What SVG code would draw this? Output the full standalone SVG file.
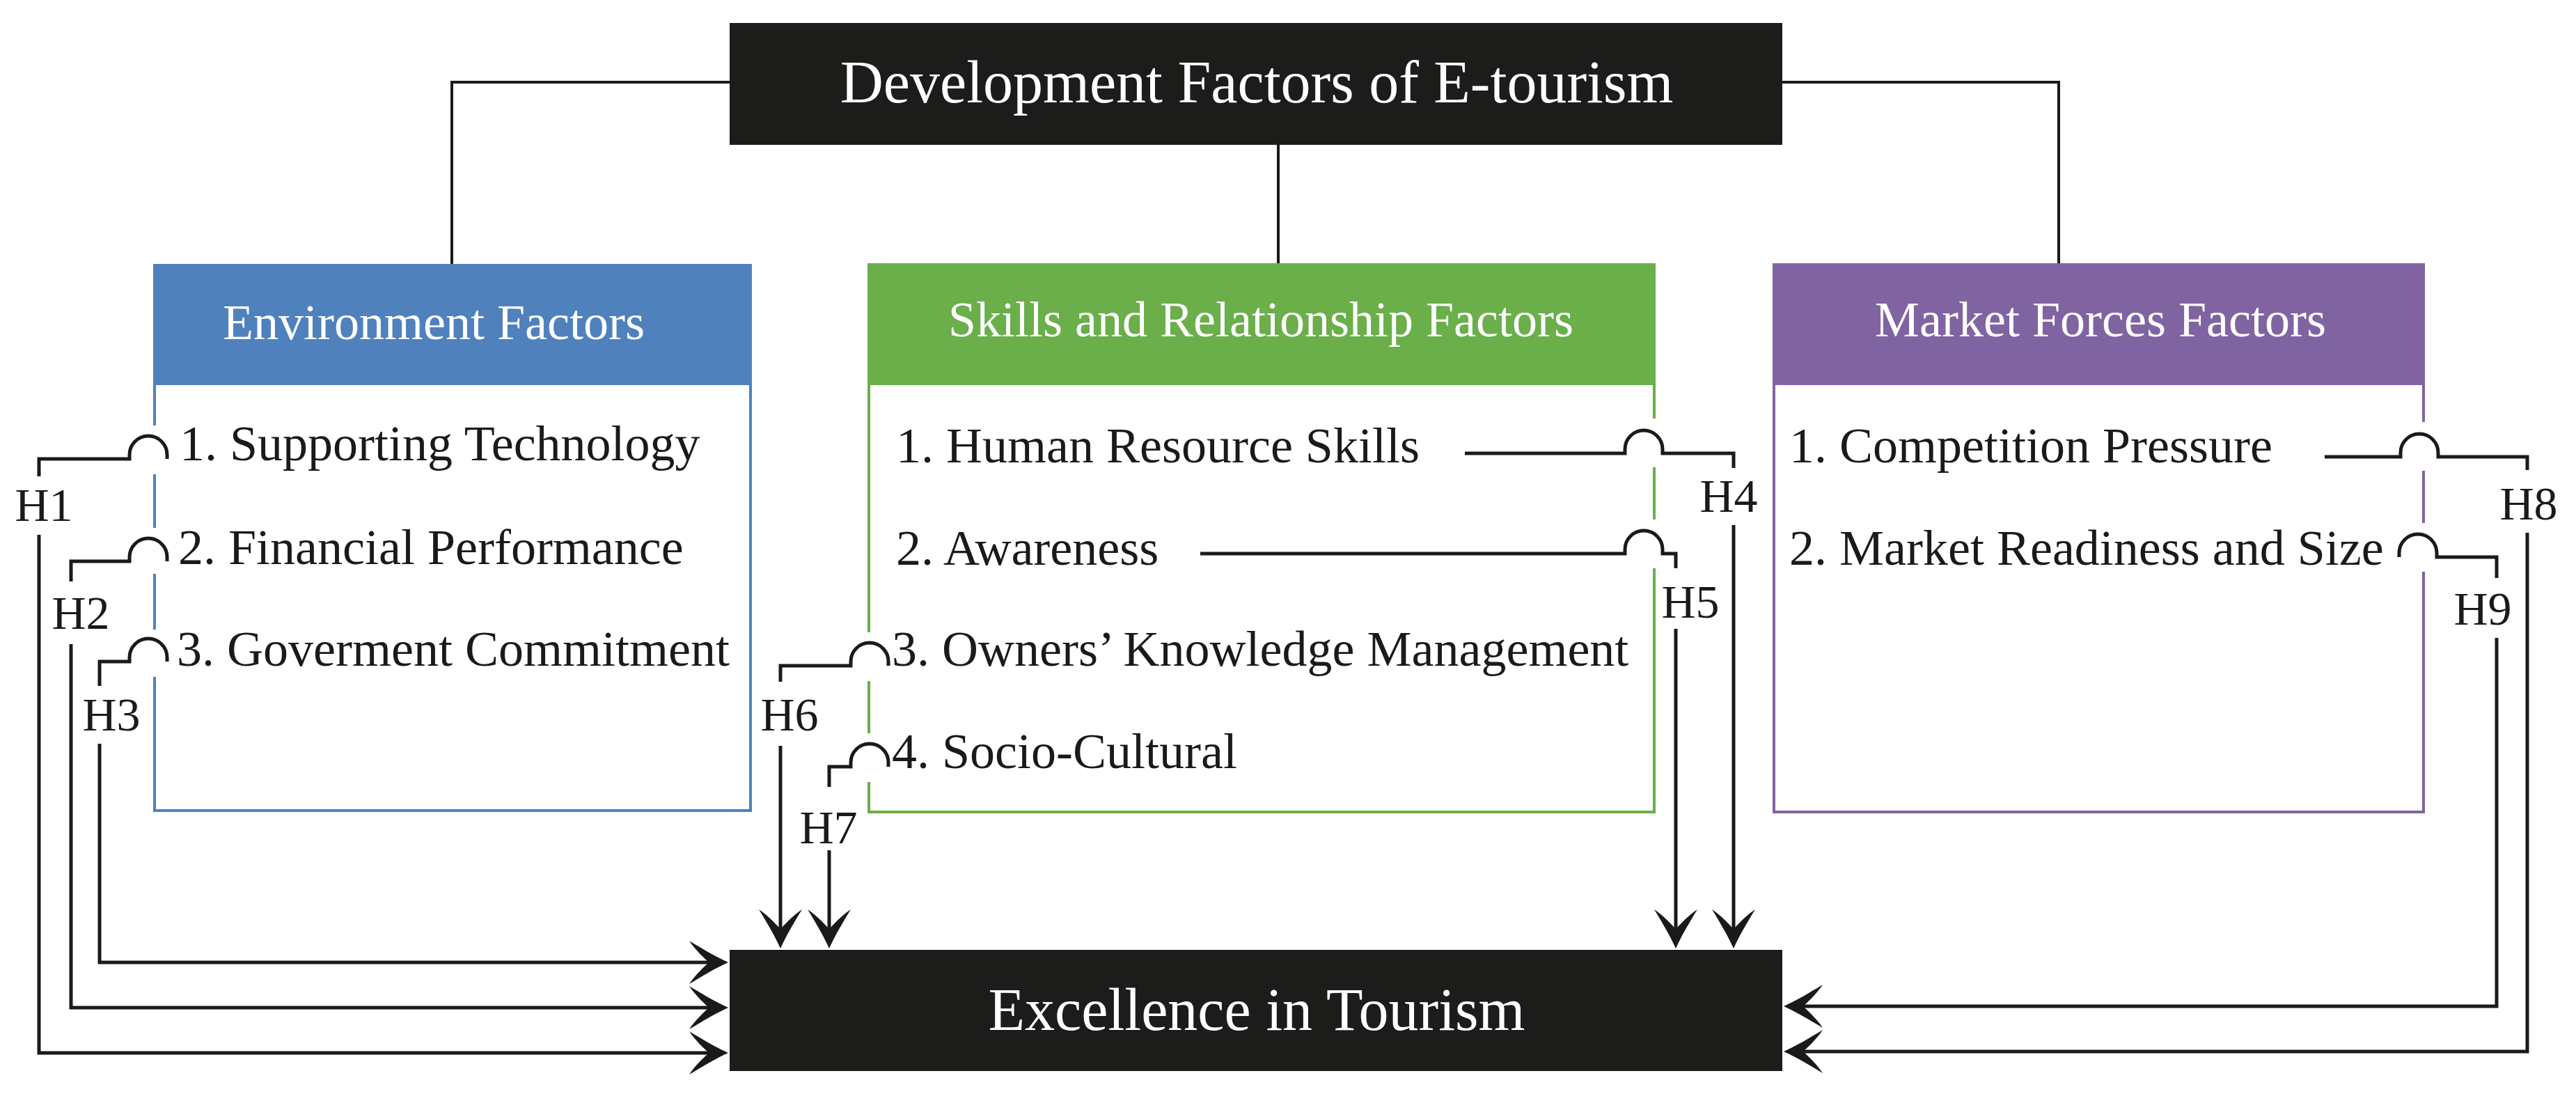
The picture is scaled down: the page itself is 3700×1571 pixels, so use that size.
<svg xmlns="http://www.w3.org/2000/svg" xmlns:xlink="http://www.w3.org/1999/xlink" width="3700" height="1571" viewBox="0 0 3700 1571">
<style>
text { font-family: "Liberation Serif", "Times New Roman", serif; }
.dark { fill: #1c1c1a; }
.big { font-size: 86px; fill: #ffffff; text-anchor: middle; }
.head { font-size: 72px; fill: #ffffff; text-anchor: middle; }
.item { font-size: 72px; fill: #1a1a1a; }
.lab { font-size: 68px; fill: #1a1a1a; text-anchor: middle; }
.conn { fill: none; stroke: #1a1a1a; stroke-width: 5; stroke-linejoin: miter; }
.thin { fill: none; stroke: #1a1a1a; stroke-width: 4; }
.gap { fill: #ffffff; }
</style>
<defs>
<path id="ah" d="M0,0 C-18,-8 -38,-20 -56,-31 C-46,-16 -34,-6 -28,0 C-34,6 -46,16 -56,31 C-38,20 -18,8 0,0 Z" fill="#1a1a1a"/>
</defs>
<rect width="3700" height="1571" fill="#ffffff"/>

<g id="connectors-top">
<path class="thin" d="M1048,118 H649 V381"/>
<path class="thin" d="M1836,208 V380"/>
<path class="thin" d="M2560,118 H2957 V380"/>
</g>

<g id="node-development">
<rect class="dark" x="1048" y="33" width="1512" height="175"/>
<text class="big" x="1805" y="147">Development Factors of E-tourism</text>
</g>

<g id="node-environment">
<rect x="222" y="381" width="856" height="783" fill="#ffffff" stroke="#4F81BD" stroke-width="4"/>
<rect x="220" y="381" width="860" height="172" fill="#4F81BD"/>
<text class="head" x="623" y="487">Environment Factors</text>
<text class="item" x="258" y="661">1. Supporting Technology</text>
<text class="item" x="256" y="810">2. Financial Performance</text>
<text class="item" x="254" y="956">3. Goverment Commitment</text>
</g>

<g id="node-skills">
<rect x="1248" y="380" width="1128" height="786" fill="#ffffff" stroke="#6AAF4A" stroke-width="4"/>
<rect x="1246" y="380" width="1132" height="173" fill="#6AAF4A"/>
<text class="head" x="1811" y="483">Skills and Relationship Factors</text>
<text class="item" x="1287" y="664">1. Human Resource Skills</text>
<text class="item" x="1287" y="811">2. Awareness</text>
<text class="item" x="1281" y="956">3. Owners’ Knowledge Management</text>
<text class="item" x="1281" y="1103">4. Socio-Cultural</text>
</g>

<g id="node-market">
<rect x="2548" y="380" width="933" height="786" fill="#ffffff" stroke="#8064A2" stroke-width="4"/>
<rect x="2546" y="380" width="937" height="173" fill="#8064A2"/>
<text class="head" x="3017" y="483">Market Forces Factors</text>
<text class="item" x="2570" y="664">1. Competition Pressure</text>
<text class="item" x="2570" y="811">2. Market Readiness and Size</text>
</g>

<g id="node-excellence">
<rect class="dark" x="1048" y="1364" width="1512" height="174"/>
<text class="big" x="1805" y="1479">Excellence in Tourism</text>
</g>

<g id="bridge-gaps">
<rect class="gap" x="214" y="611" width="16" height="70"/>
<rect class="gap" x="214" y="758" width="16" height="66"/>
<rect class="gap" x="214" y="904" width="16" height="68"/>
<rect class="gap" x="1240" y="908" width="16" height="70"/>
<rect class="gap" x="1240" y="1053" width="16" height="70"/>
<rect class="gap" x="2368" y="601" width="16" height="70"/>
<rect class="gap" x="2368" y="746" width="16" height="70"/>
<rect class="gap" x="3473" y="606" width="16" height="70"/>
<rect class="gap" x="3473" y="751" width="16" height="70"/>
</g>

<g id="connectors">
<path class="conn" d="M240,659 V653 A27,27 0 0 0 186,653 V659 H56 V684"/>
<path class="conn" d="M56,768 V1512 H1020"/>
<path class="conn" d="M240,806 V800 A27,27 0 0 0 186,800 V806 H102 V835"/>
<path class="conn" d="M102,925 V1447 H1020"/>
<path class="conn" d="M240,950 V944 A27,27 0 0 0 186,944 V950 H143 V985"/>
<path class="conn" d="M143,1068 V1382 H1020"/>

<path class="conn" d="M2104,651 H2334 V645 A27,27 0 0 1 2388,645 V651 H2490 V672"/>
<path class="conn" d="M2490,754 V1334"/>
<path class="conn" d="M1724,795 H2334 V789 A27,27 0 0 1 2388,789 V795 H2407 V816"/>
<path class="conn" d="M2407,903 V1334"/>
<path class="conn" d="M1276,956 V950 A27,27 0 0 0 1222,950 V956 H1121 V979"/>
<path class="conn" d="M1121,1071 V1334"/>
<path class="conn" d="M1276,1101 V1095 A27,27 0 0 0 1222,1095 V1101 H1191 V1130"/>
<path class="conn" d="M1191,1221 V1334"/>

<path class="conn" d="M3339,656 H3448 V650 A27,27 0 0 1 3502,650 V656 H3630 V675"/>
<path class="conn" d="M3630,765 V1510 H2590"/>
<path class="conn" d="M3446,800 V794 A27,27 0 0 1 3500,794 V800 H3586 V830"/>
<path class="conn" d="M3586,916 V1445 H2590"/>

<use xlink:href="#ah" transform="translate(1046,1382)"/>
<use xlink:href="#ah" transform="translate(1046,1447)"/>
<use xlink:href="#ah" transform="translate(1046,1512)"/>
<use xlink:href="#ah" transform="translate(1121,1362) rotate(90)"/>
<use xlink:href="#ah" transform="translate(1191,1362) rotate(90)"/>
<use xlink:href="#ah" transform="translate(2407,1362) rotate(90)"/>
<use xlink:href="#ah" transform="translate(2490,1362) rotate(90)"/>
<use xlink:href="#ah" transform="translate(2562,1445) rotate(180)"/>
<use xlink:href="#ah" transform="translate(2562,1510) rotate(180)"/>
</g>

<g id="labels">
<text class="lab" x="63" y="748">H1</text>
<text class="lab" x="116" y="903">H2</text>
<text class="lab" x="160" y="1049">H3</text>
<text class="lab" x="2483" y="735">H4</text>
<text class="lab" x="2428" y="887">H5</text>
<text class="lab" x="1134" y="1049">H6</text>
<text class="lab" x="1190" y="1211">H7</text>
<text class="lab" x="3632" y="746">H8</text>
<text class="lab" x="3566" y="897">H9</text>
</g>
</svg>
